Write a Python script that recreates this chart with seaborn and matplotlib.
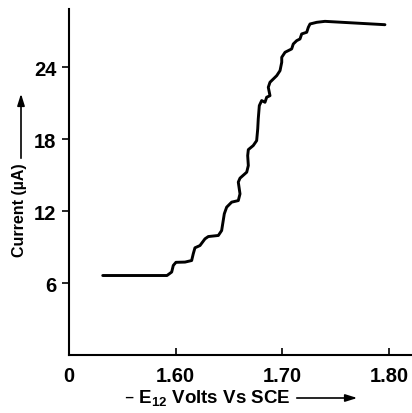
import matplotlib

matplotlib.use("Agg")

import matplotlib.pyplot as plt
import numpy as np
import pandas as pd
import seaborn as sns

# curve (potential in -V vs SCE, current in uA)
potential = [
    1.5316, 1.5918, 1.5962, 1.5977, 1.6002, 1.6087, 1.6149, 1.6164, 1.6180,
    1.6227, 1.6274, 1.6305, 1.6399, 1.6430, 1.6455, 1.6477, 1.6524, 1.6586,
    1.6602, 1.6586, 1.6602, 1.6665, 1.6680, 1.6674, 1.6680, 1.6726, 1.6758,
    1.6768, 1.6773, 1.6783, 1.6805, 1.6836, 1.6852, 1.6883, 1.6867, 1.6883,
    1.6946, 1.6977, 1.6993, 1.6993, 1.7024, 1.7086, 1.7101, 1.7133, 1.7164,
    1.7180, 1.7227, 1.7242, 1.7258, 1.7321, 1.7398, 1.7960,
]
current = [
    6.63, 6.63, 6.92, 7.47, 7.73, 7.75, 7.88, 8.44, 8.94,
    9.13, 9.69, 9.88, 9.97, 10.38, 11.78, 12.33, 12.75, 12.88,
    13.44, 14.42, 14.75, 15.25, 15.80, 16.63, 17.13, 17.47, 17.88,
    18.86, 19.69, 20.80, 21.22, 21.08, 21.50, 21.63, 22.33, 22.75,
    23.30, 23.72, 24.42, 24.83, 25.25, 25.53, 25.94, 26.22, 26.36,
    26.78, 26.92, 27.33, 27.61, 27.75, 27.83, 27.55,
]
x_ticks = [1.50, 1.60, 1.70, 1.80]
x_tick_labels = ["0", "1.60", "1.70", "1.80"]
y_ticks = [6, 12, 18, 24]

df = pd.DataFrame({"E": potential, "I": current})

sns.set_style("ticks")
plt.rcParams["font.family"] = ["Liberation Sans", "DejaVu Sans"]
plt.rcParams["font.weight"] = "bold"
plt.rcParams["mathtext.default"] = "regular"
plt.rcParams["text.color"] = "black"
plt.rcParams["xtick.color"] = "black"
plt.rcParams["ytick.color"] = "black"
plt.rcParams["axes.edgecolor"] = "black"

fig = plt.figure(figsize=(4.12, 4.14), dpi=100)
ax = fig.add_axes([69 / 412, 58 / 414, 342 / 412, 346 / 414])

line = sns.lineplot(data=df, x="E", y="I", sort=False, estimator=None,
                    color="black", lw=2.1, ax=ax)
for ln in ax.lines:
    ln.set_solid_joinstyle("round")

ax.set_xlim(1.50, 1.8204)
ax.set_ylim(0, 28.86)
ax.set_xticks(x_ticks)
ax.set_xticklabels(x_tick_labels)
ax.set_yticks(y_ticks)
ax.tick_params(axis="x", direction="in", length=5, width=1.2, labelsize=14.5, pad=8,
               colors="black")
ax.tick_params(axis="y", direction="out", length=5, width=1.2, labelsize=14.5, pad=4,
               colors="black")
ax.xaxis.get_major_ticks()[0].tick1line.set_visible(False)
for lab in ax.get_xticklabels() + ax.get_yticklabels():
    lab.set_fontweight("bold")
ax.set_xlabel("")
ax.set_ylabel("")
sns.despine(ax=ax)
for side in ["left", "bottom"]:
    ax.spines[side].set_linewidth(1.5)
    ax.spines[side].set_color("black")

# axis titles with arrows, as in the original
fig.text(207 / 412, 1 - 398 / 414, "– E$_{12}$ Volts Vs SCE", ha="center", va="center",
         fontsize=13.5, fontweight="bold", color="black")
fig.text(20 / 412, 1 - 210 / 414, "Current (µA)", ha="center", va="center",
         rotation=90, fontsize=11.5, fontweight="bold", color="black")
arrow = dict(arrowstyle="-|>,head_length=0.7,head_width=0.22", color="black", lw=1.2)
ax.annotate("", xy=(360 / 412, 1 - 399 / 414), xytext=(294 / 412, 1 - 399 / 414),
            xycoords="figure fraction", arrowprops=arrow)
ax.annotate("", xy=(21 / 412, 1 - 92 / 414), xytext=(21 / 412, 1 - 162 / 414),
            xycoords="figure fraction", arrowprops=arrow)

fig.savefig("out.png", dpi=100)
